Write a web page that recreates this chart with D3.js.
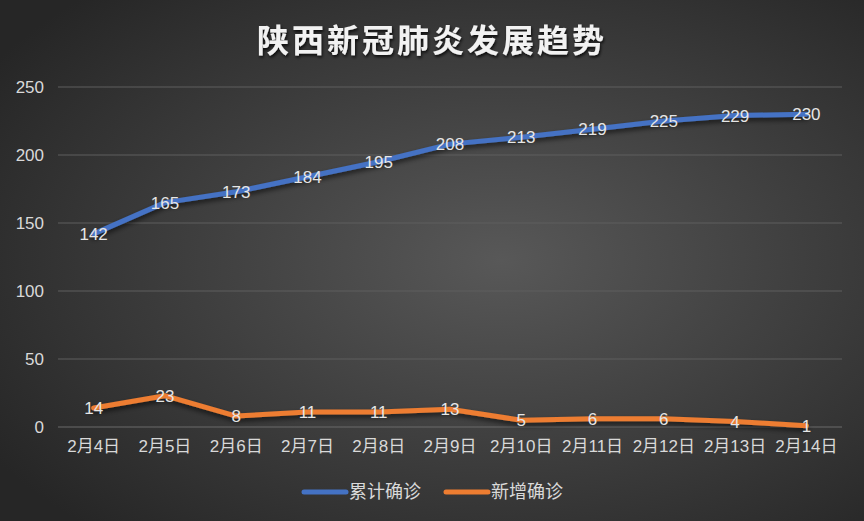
<!DOCTYPE html>
<html><head><meta charset="utf-8">
<script src="https://cdn.jsdelivr.net/npm/d3@7"></script>
<style>body{margin:0;background:#333}svg{display:block}</style>
</head><body>
<svg id="c" width="864" height="521"></svg>
<script>
const categories = ["2月4日","2月5日","2月6日","2月7日","2月8日","2月9日","2月10日","2月11日","2月12日","2月13日","2月14日"];
const cumulative = [142,165,173,184,195,208,213,219,225,229,230];
const daily = [14,23,8,11,11,13,5,6,6,4,1];
const yTicks = [0,50,100,150,200,250];
const seriesNames = ["累计确诊","新增确诊"];
const colors = ["#4472c4","#ed7d31"];

const svg = d3.select("#c");
const W = 864, H = 521;
const font = "'Liberation Sans', 'Noto Sans CJK SC', sans-serif";
const cjk = "'Noto Sans CJK SC', sans-serif";
const defs = svg.append("defs");
const rg = defs.append("radialGradient").attr("id","bg").attr("cx","58%").attr("cy","50%").attr("r","70%");
rg.append("stop").attr("offset","0%").attr("stop-color","#585858");
rg.append("stop").attr("offset","100%").attr("stop-color","#262626");
const f = defs.append("filter").attr("id","sh").attr("x","-10%").attr("y","-50%").attr("width","120%").attr("height","200%");
f.append("feDropShadow").attr("dx",0).attr("dy",3).attr("stdDeviation",2.5).attr("flood-color","#000").attr("flood-opacity",0.6);
const ft = defs.append("filter").attr("id","tsh");
ft.append("feDropShadow").attr("dx",1).attr("dy",2).attr("stdDeviation",1.5).attr("flood-color","#000").attr("flood-opacity",0.8);

svg.append("rect").attr("width",W).attr("height",H).attr("fill","url(#bg)");

const x = d3.scaleBand().domain(categories).range([58,842]);
const y = d3.scaleLinear().domain([0,250]).range([427,87]);

// gridlines
svg.append("g").selectAll("line").data(yTicks).join("line")
  .attr("x1",58).attr("x2",842).attr("y1",d=>y(d)).attr("y2",d=>y(d))
  .attr("stroke", d=> d===0 ? "#6a6a6a" : "#5e5e5e").attr("stroke-width",1.2);

// y axis
const ya = svg.append("g").attr("transform","translate(44,0)")
  .call(d3.axisLeft(y).tickValues(yTicks).tickSize(0).tickPadding(0));
ya.select(".domain").remove();
ya.selectAll("text").attr("fill","#d9d9d9").style("font-family",font).style("font-size","17px");

// x axis
const xa = svg.append("g").attr("transform","translate(0,427)")
  .call(d3.axisBottom(x).tickSize(0).tickPadding(13));
xa.select(".domain").remove();
xa.selectAll("text").attr("fill","#d9d9d9").style("font-family",font).style("font-size","17px");

const cx = d => x(d) + x.bandwidth()/2;
const line = d3.line().x((d,i)=>cx(categories[i])).y(d=>y(d));
[cumulative, daily].forEach((s,k)=>{
  svg.append("path").datum(s).attr("d",line).attr("fill","none")
    .attr("stroke",colors[k]).attr("stroke-width",5).attr("stroke-linejoin","round").attr("stroke-linecap","round")
    .attr("filter","url(#sh)");
});
[cumulative, daily].forEach((s,k)=>{
  svg.append("g").selectAll("text").data(s).join("text")
    .attr("x",(d,i)=>cx(categories[i])).attr("y",d=>y(d)).attr("dy","0.36em")
    .attr("text-anchor","middle").attr("fill","#e6e6e6")
    .style("font-family",font).style("font-size","17px").text(d=>d);
});

// title
svg.append("text").attr("x",432).attr("y",52).attr("text-anchor","middle")
  .attr("fill","#f2f2f2").attr("filter","url(#tsh)")
  .style("font-family",cjk).style("font-size","32px").style("font-weight","bold").style("letter-spacing","3px")
  .text("陕西新冠肺炎发展趋势");

// legend
const lg = svg.append("g");
const items = [{x:304},{x:446}];
seriesNames.forEach((n,k)=>{
  const g = lg.append("g").attr("transform",`translate(${items[k].x},492)`);
  g.append("line").attr("x1",0).attr("x2",42).attr("stroke",colors[k]).attr("stroke-width",5).attr("stroke-linecap","round");
  g.append("text").attr("x",45).attr("dy","0.36em").attr("fill","#d9d9d9")
    .style("font-family",cjk).style("font-size","18px").text(n);
});
</script>
</body></html>
